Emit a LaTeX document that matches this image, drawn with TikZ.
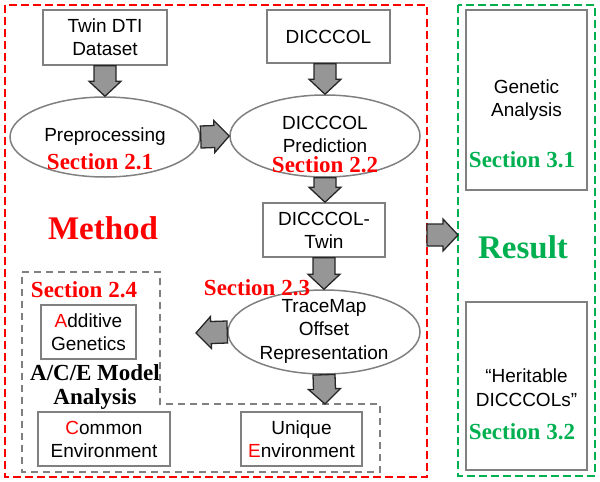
\documentclass[tikz,border=0pt]{standalone}
\usepackage{fontspec}
\setmainfont{Liberation Sans}
\newfontfamily\tnr{Liberation Serif}
\usetikzlibrary{shapes.geometric,calc}
\definecolor{mred}{RGB}{255,0,0}
\definecolor{mgreen}{RGB}{0,176,80}
\definecolor{boxgray}{RGB}{128,128,128}
\definecolor{arrfill}{RGB}{150,150,150}
\newcommand\myblockarrow[2]{%
  \filldraw[barrow] let \p1=#1, \p2=#2, \n1={veclen(\x2-\x1,\y2-\y1)}, \n2={atan2(\y2-\y1,\x2-\x1)} in
    [shift={(\p1)}, rotate=\n2] (0,-11) -- (\n1-15,-11) -- (\n1-15,-16) -- (\n1,0)
    -- (\n1-15,16) -- (\n1-15,11) -- (0,11) -- cycle;}
\begin{document}
\begin{tikzpicture}[x=1pt,y=-1pt,
  box/.style={draw=boxgray, line width=1.5pt, inner sep=0pt, align=center,
    font=\fontsize{19}{23}\selectfont},
  ell/.style={ellipse, draw=boxgray, line width=1.5pt, inner sep=0pt},
  txt/.style={align=center, inner sep=0pt, font=\fontsize{19}{23.5}\selectfont},
  sec/.style={inner sep=0pt, font=\fontsize{23}{26}\selectfont\tnr\bfseries},
  big/.style={inner sep=0pt, align=center, font=\fontsize{33}{36}\selectfont\tnr\bfseries},
  barrow/.style={draw=black!85, fill=arrfill, line width=1.3pt, line join=miter},
  reddash/.style={draw=mred, line width=2.5pt, dash pattern=on 8pt off 4pt},
  greendash/.style={draw=mgreen, line width=2.5pt, dash pattern=on 8pt off 4pt},
  graydash/.style={draw=boxgray, line width=1.5pt, dash pattern=on 7pt off 5pt}
]
\useasboundingbox (0,0) rectangle (600,482);
% frames
\draw[reddash] (5,5) rectangle (427,477);
\draw[greendash] (458,5) rectangle (595,476);
\coordinate (mframeE) at (427,235);
\coordinate (rframeW) at (458,235);
% A/C/E dashed region
\draw[graydash] (22,272) -- (160,272) -- (160,404) -- (380,404) -- (380,472) -- (22,472) -- cycle;
\coordinate (aceTop) at (325,404);
\coordinate (aceIn) at (196,333);

% nodes
\node[box, minimum width=124pt, minimum height=55pt] (twin) at (105,37.5) {Twin DTI\\Dataset};
\node[box, minimum width=123pt, minimum height=53pt] (dic) at (328.5,36.5) {DICCCOL};
\node[ell, minimum width=190pt, minimum height=80pt] (pre) at (105,137) {};
\node[txt] at (105,137) {Preprocessing};
\node[ell, minimum width=190pt, minimum height=82pt] (pred) at (325,136) {};
\node[txt] at (325,134.5) {DICCCOL\\Prediction};
\node[box, minimum width=122pt, minimum height=54pt] (dtwin) at (324,230) {DICCCOL-\\Twin};
\node[ell, minimum width=192pt, minimum height=84pt] (trace) at (324,332) {};
\node[txt] at (324,331) {TraceMap\\Offset\\Representation};
\node[box, minimum width=95pt, minimum height=54pt] (add) at (88.5,332) {\textcolor{mred}{A}dditive\\Genetics};
\node[box, minimum width=132pt, minimum height=54pt] (com) at (104,439) {\textcolor{mred}{C}ommon\\Environment};
\node[box, minimum width=121pt, minimum height=54pt] (uni) at (301.5,439) {Unique\\\textcolor{mred}{E}nvironment};
\node[box, minimum width=121pt, minimum height=180pt] (ga) at (526.5,100) {};
\node[txt] at (526.5,100) {Genetic\\Analysis};
\node[box, minimum width=121pt, minimum height=168pt] (her) at (526.5,386) {};
\node[txt] at (526.5,387.5) {“Heritable\\DICCCOLs”};

% labels
\node[sec, text=mred] (s21) at (100,162) {Section 2.1};
\node[sec, text=mred] (s22) at (325,165) {Section 2.2};
\node[sec, text=mred] (s23) at (257,288) {Section 2.3};
\node[sec, text=mred] (s24) at (84,290) {Section 2.4};
\node[sec, align=center, font=\fontsize{23}{24}\selectfont\tnr\bfseries] (ace) at (95,387) {A/C/E Model\\Analysis};
\node[big, text=mred] (method) at (103,228) {Method};
\node[big, text=mgreen] (result) at (523,247) {Result};
\node[sec, text=mgreen] (s31) at (522,160) {Section 3.1};
\node[sec, text=mgreen] (s32) at (522,432) {Section 3.2};

% block arrows
\myblockarrow{(twin.south)}{(pre.north)}
\myblockarrow{(pre.east)}{(pred.west)}
\myblockarrow{(dic.south -| pred.north)}{(pred.north)}
\myblockarrow{(pred.south)}{(dtwin.north -| pred.south)}
\myblockarrow{(dtwin.south)}{(trace.north)}
\myblockarrow{(trace.west)}{(aceIn)}
\myblockarrow{(trace.south)}{(aceTop)}
\myblockarrow{(mframeE)}{(rframeW)}
\end{tikzpicture}
\end{document}
